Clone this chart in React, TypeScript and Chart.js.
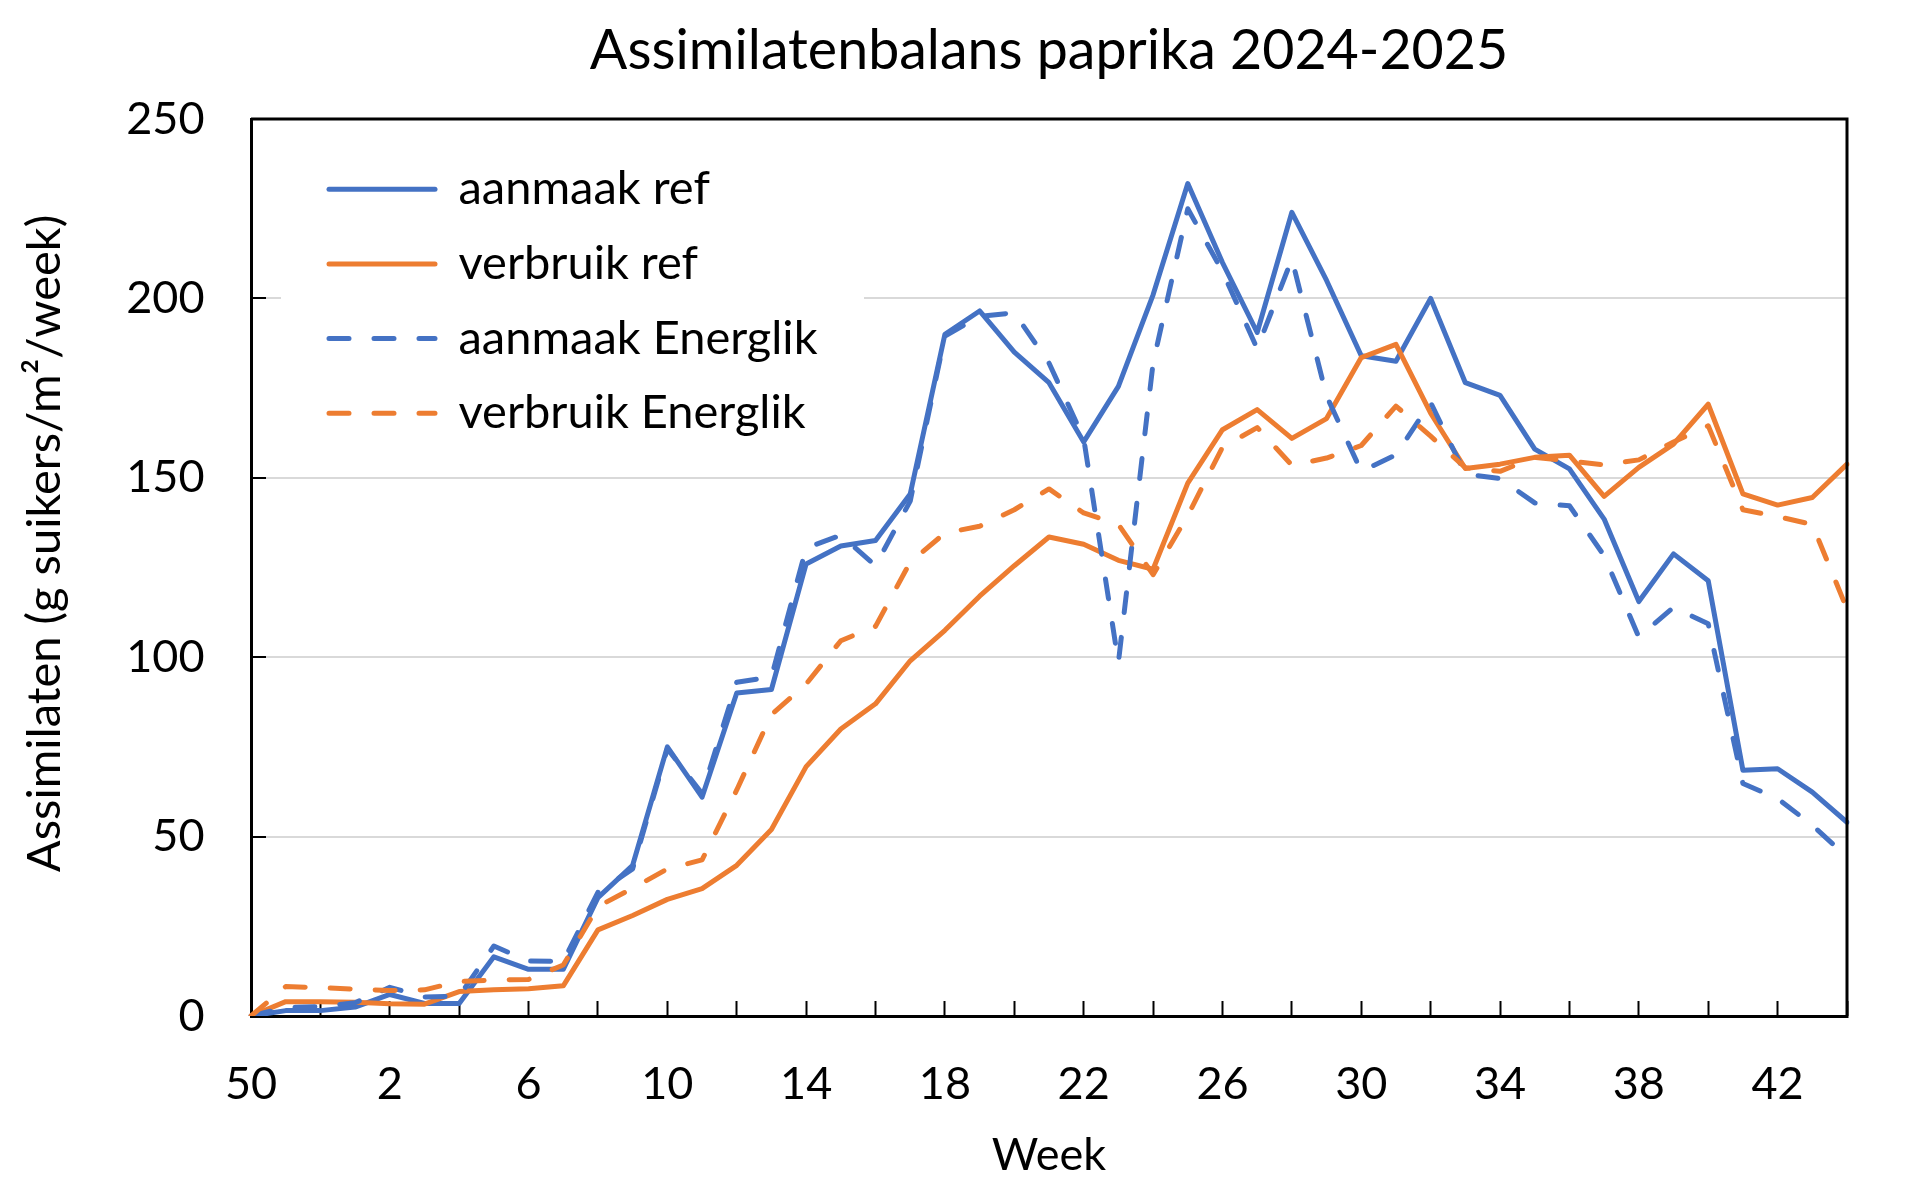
import React, { useEffect, useRef } from 'react';
import { Chart, registerables } from 'chart.js';

Chart.register(...registerables);

// ---- data ----
const weeks = ['50', '51', '52', '1', '2', '3', '4', '5', '6', '7', '8', '9', '10', '11', '12', '13', '14', '15', '16', '17', '18', '19', '20', '21', '22', '23', '24', '25', '26', '27', '28', '29', '30', '31', '32', '33', '34', '35', '36', '37', '38', '39', '40', '41', '42', '43', '44'];
const shownWeekTicks = ['50', '2', '6', '10', '14', '18', '22', '26', '30', '34', '38', '42'];

const aanmaakRef = [0, 1.5, 1.5, 2.5, 6, 3.5, 3.5, 16.5, 13, 13, 33, 42, 75, 61, 90, 91, 126, 131, 132.5, 145.5, 190, 196.5, 185, 176.5, 160, 175.5, 201, 232, 210, 190.5, 224, 205, 184, 182.5, 200, 176.5, 173, 158, 152.5, 138.5, 115.5, 128.8, 121.3, 68.5, 68.9, 62.4, 54];
const verbruikRef = [0, 4, 4, 3.8, 3.4, 3.3, 6.8, 7.3, 7.6, 8.4, 24, 28, 32.5, 35.5, 42, 52, 69.5, 80, 87, 99, 107.5, 117, 125.5, 133.5, 131.5, 127, 124.5, 148.5, 163.4, 169, 161, 166.5, 183.5, 187.2, 168, 152.6, 153.8, 155.7, 156.3, 144.8, 152.9, 159.4, 170.5, 145.5, 142.4, 144.5, 153.8];
const aanmaakEnerglik = [0, 2.4, 2.6, 3.7, 8, 5.3, 5.5, 19.5, 15.3, 15.2, 34.5, 41, 74.5, 62, 93, 94.5, 130.4, 134, 125.5, 143.5, 189.5, 195, 196, 182, 161, 98.5, 182, 225, 207.5, 186, 211, 172.8, 151.8, 156.4, 171, 151, 149.8, 143, 142.2, 128.3, 105.6, 113.9, 109.3, 64.8, 60.6, 53.2, 44.3];
const verbruikEnerglik = [0, 8.2, 7.9, 7.5, 7.1, 7.3, 9.6, 10, 10.2, 14.2, 30.5, 35.6, 41, 43.5, 63, 84, 92.5, 104.6, 108.6, 126.5, 134.6, 136.5, 141.1, 146.9, 140.2, 137, 123, 139.5, 158.5, 164, 153.5, 155.5, 159, 170, 161.6, 152.8, 151.8, 155.7, 154.7, 153.6, 155, 160, 164.5, 141.1, 139.2, 137, 113.4];

const BLUE = '#4472C4';
const ORANGE = '#ED7D31';
const FONT = 'Lato, "Noto Sans", sans-serif';
const DASH = [20, 25];
const LEGEND_FONT = 47;
const LEGEND_PAD = 27.7;

const framePlugin = {
  id: 'frameAndLegend',
  afterLayout(chart: any) {
    const ca = chart.chartArea;
    const lg = chart.legend;
    if (lg) {
      lg.left = ca.left + 78 - LEGEND_PAD;
      lg.top = ca.top + 19;
      lg.right = ca.right;
      lg.bottom = ca.bottom;
    }
  },
  beforeDatasetsDraw(chart: any) {
    const { ctx, chartArea: ca, scales } = chart;
    const y = Math.round(scales.y.getPixelForValue(200));
    ctx.save();
    ctx.strokeStyle = '#d9d9d9';
    ctx.lineWidth = 2;
    ctx.beginPath();
    ctx.moveTo(ca.left + 15, y);
    ctx.lineTo(ca.left + 30, y);
    ctx.moveTo(ca.left + 613, y);
    ctx.lineTo(ca.right, y);
    ctx.stroke();
    ctx.restore();
  },
  afterDatasetsDraw(chart: any) {
    const { ctx, chartArea: ca } = chart;
    ctx.save();
    ctx.strokeStyle = '#000';
    ctx.lineWidth = 3;
    ctx.beginPath();
    ctx.moveTo(ca.left, ca.top);
    ctx.lineTo(ca.right, ca.top);
    ctx.lineTo(ca.right, ca.bottom);
    ctx.stroke();
    ctx.restore();
  },
};

export default function App() {
  const ref = useRef<HTMLCanvasElement>(null);

  useEffect(() => {
    if (!ref.current) return;
    const chart = new Chart(ref.current, {
      type: 'line',
      data: {
        labels: weeks,
        datasets: [
          { label: 'aanmaak ref', data: aanmaakRef, borderColor: BLUE, backgroundColor: BLUE, order: 4 },
          { label: 'verbruik ref', data: verbruikRef, borderColor: ORANGE, backgroundColor: ORANGE, order: 3 },
          { label: 'aanmaak Energlik', data: aanmaakEnerglik, borderColor: BLUE, backgroundColor: BLUE, borderDash: DASH, order: 2 },
          { label: 'verbruik Energlik', data: verbruikEnerglik, borderColor: ORANGE, backgroundColor: ORANGE, borderDash: DASH, order: 1 },
        ].map((d) => ({
          ...d,
          borderWidth: 5,
          pointRadius: 0,
          pointHoverRadius: 0,
          tension: 0,
          fill: false,
          borderCapStyle: 'round' as const,
          borderJoinStyle: 'round' as const,
        })),
      },
      options: {
        responsive: false,
        animation: false,
        events: [],
        layout: { padding: { left: 0, right: 73, top: 0, bottom: 0 } },
        plugins: {
          title: {
            display: true,
            fullSize: false,
            text: 'Assimilatenbalans paprika 2024-2025',
            color: '#000',
            font: { family: FONT, size: 55.5, weight: 'normal', lineHeight: 1.2 },
            padding: { top: 18, bottom: 34.4 },
          },
          legend: {
            display: true,
            position: 'chartArea',
            align: 'start',
            labels: {
              usePointStyle: true,
              pointStyle: 'line',
              pointStyleWidth: 106,
              color: '#000',
              padding: LEGEND_PAD,
              font: { family: FONT, size: LEGEND_FONT },
              generateLabels: (ch: any) =>
                ch.data.datasets.map((ds: any, i: number) => ({
                  text: ds.label,
                  strokeStyle: ds.borderColor,
                  fillStyle: ds.borderColor,
                  lineWidth: 5,
                  lineDash: ds.borderDash || [],
                  lineCap: 'round',
                  lineJoin: 'round',
                  pointStyle: 'line',
                  fontColor: '#000',
                  hidden: false,
                  datasetIndex: i,
                })),
            },
          },
          tooltip: { enabled: false },
        },
        scales: {
          x: {
            type: 'category',
            offset: false,
            grid: {
              display: true,
              drawOnChartArea: false,
              drawTicks: true,
              tickLength: -15,
              tickWidth: 2,
              tickColor: (c: any) => (c.index % 2 === 0 ? '#000' : 'rgba(0,0,0,0)'),
            },
            border: { display: true, color: '#000', width: 3 },
            ticks: {
              autoSkip: false,
              maxRotation: 0,
              minRotation: 0,
              color: '#000',
              padding: 56,
              font: { family: FONT, size: 45 },
              callback: (_v: any, i: number) => (shownWeekTicks.includes(weeks[i]) ? weeks[i] : ''),
            },
            title: {
              display: true,
              text: 'Week',
              color: '#000',
              font: { family: FONT, size: 45, lineHeight: 1.2 },
              padding: { top: 0, bottom: 17 },
            },
            afterFit: (s: any) => {
              s.height = 183;
            },
          },
          y: {
            min: 0,
            max: 250,
            grid: {
              color: (c: any) => (c.tick && c.tick.value === 200 ? 'rgba(0,0,0,0)' : '#d9d9d9'),
              lineWidth: 2,
              drawTicks: true,
              tickLength: -15,
              tickWidth: 2,
              tickColor: '#000',
            },
            border: { display: true, color: '#000', width: 3 },
            ticks: {
              stepSize: 50,
              color: '#000',
              padding: 61.5,
              font: { family: FONT, size: 45 },
            },
            title: {
              display: true,
              text: '    Assimilaten (g suikers/m²/week)',
              color: '#000',
              font: { family: FONT, size: 47, lineHeight: 1.2 },
              padding: { top: 16.8, bottom: 0 },
            },
            afterFit: (s: any) => {
              s.width = 251;
            },
          },
        },
      } as any,
      plugins: [framePlugin],
    });
    return () => chart.destroy();
  }, []);

  return (
    <div style={{ position: 'fixed', left: 0, top: 0, width: 1920, height: 1199, background: '#fff' }}>
      <canvas ref={ref} width={1920} height={1199} style={{ display: 'block', width: 1920, height: 1199 }} />
    </div>
  );
}
